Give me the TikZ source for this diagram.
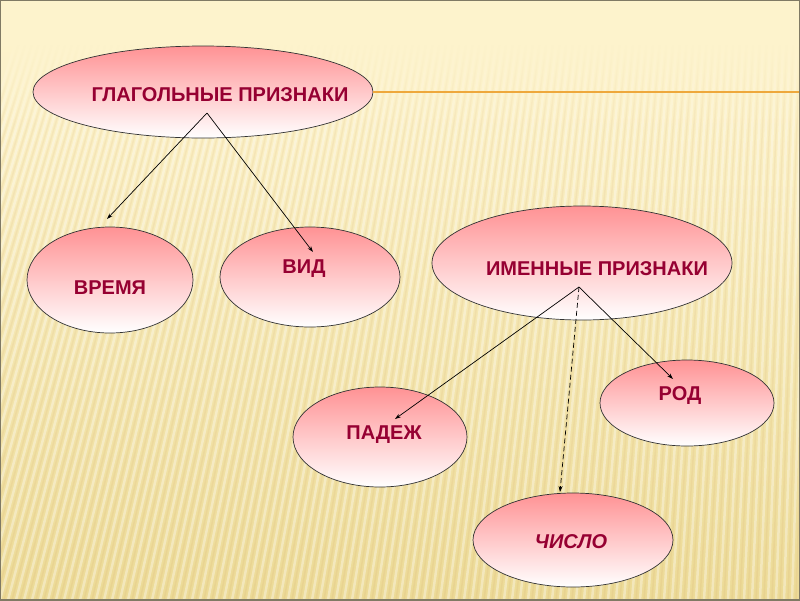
\documentclass[tikz,border=0pt]{standalone}
\usepackage{fontspec}
\setmainfont{Liberation Sans}
\usetikzlibrary{shapes.geometric,arrows.meta,calc,fadings}
\definecolor{cream}{RGB}{253,243,204}
\definecolor{sand}{RGB}{236,218,150}
\definecolor{rosy}{RGB}{255,146,148}
\definecolor{wine}{RGB}{150,0,50}
\definecolor{amber}{RGB}{238,168,60}
\definecolor{rim}{RGB}{128,122,100}
\tikzset{
  oval/.style={draw=black!80,ellipse,inner sep=0pt,top color=rosy,bottom color=white,line width=0.7pt},
  txt/.style={font=\fontsize{20}{23}\selectfont\bfseries,text=wine,inner sep=0pt},
  arr/.style={-{Stealth[length=6pt,width=4pt]},line width=0.7pt}
}
\newcommand{\pn}[6]{\node[oval,minimum width=#3pt,minimum height=#4pt] (#1) at (#2) {};
  \node[txt] (#1t) at (#5) {#6};}

\begin{document}
\begin{tikzpicture}[x=1pt,y=-1pt]
\useasboundingbox (0,0) rectangle (800,600);
% background
\fill[cream] (0,0) rectangle (800,45);
\shade[top color=cream,bottom color=sand] (0,40) rectangle (800,600);
\begin{scope}
\clip (0,45) rectangle (800,600);
\foreach \i in {-160,-152,...,960} {
  \draw[white,opacity=0.35,line width=2.5pt] (\i,600) -- ({\i+150-\i/6},40);
  \draw[brown,opacity=0.08,line width=1.5pt] (\i+4,600) -- ({\i+4+150-(\i+4)/6},40);
}
\end{scope}
\fill[cream,path fading=south] (0,44) rectangle (800,130);
% top ellipse and rule
\coordinate (ruleend) at (800,92);
\pn{glag}{203,92}{340}{92}{220,95}{ГЛАГОЛЬНЫЕ ПРИЗНАКИ}
\draw[amber,line width=1.5pt] (glag.east) -- (ruleend);
\pn{vrem}{110,280}{166}{106}{110,288}{ВРЕМЯ}
\pn{vid}{310,277}{180}{100}{304,269}{ВИД}
\pn{imen}{582,263}{300}{114}{597,269}{ИМЕННЫЕ ПРИЗНАКИ}
\pn{rod}{687,403}{174}{86}{680,396}{РОД}
\pn{padezh}{380,437}{174}{100}{384,435}{ПАДЕЖ}
\pn{chislo}{573,540}{200}{94}{571,542}{\itshape ЧИСЛО}
% connectors
\coordinate (gsrc) at (207,113);
\coordinate (vremtip) at (107,219);
\coordinate (vidtip) at (313,252);
\coordinate (isrc) at (579,287);
\coordinate (padezhtip) at (395,419);
\coordinate (chislotip) at (560,492);
\coordinate (rodtip) at (673,379);
\draw[arr] (gsrc) -- (vremtip);
\draw[arr] (gsrc) -- (vidtip);
\draw[arr] (isrc) -- (padezhtip);
\draw[arr,dash pattern=on 5pt off 3pt] (isrc) -- (chislotip);
\draw[arr] (isrc) -- (rodtip);
% frame
\draw[rim,line width=2pt] (0,0) rectangle (800,600);
\end{tikzpicture}
\end{document}
